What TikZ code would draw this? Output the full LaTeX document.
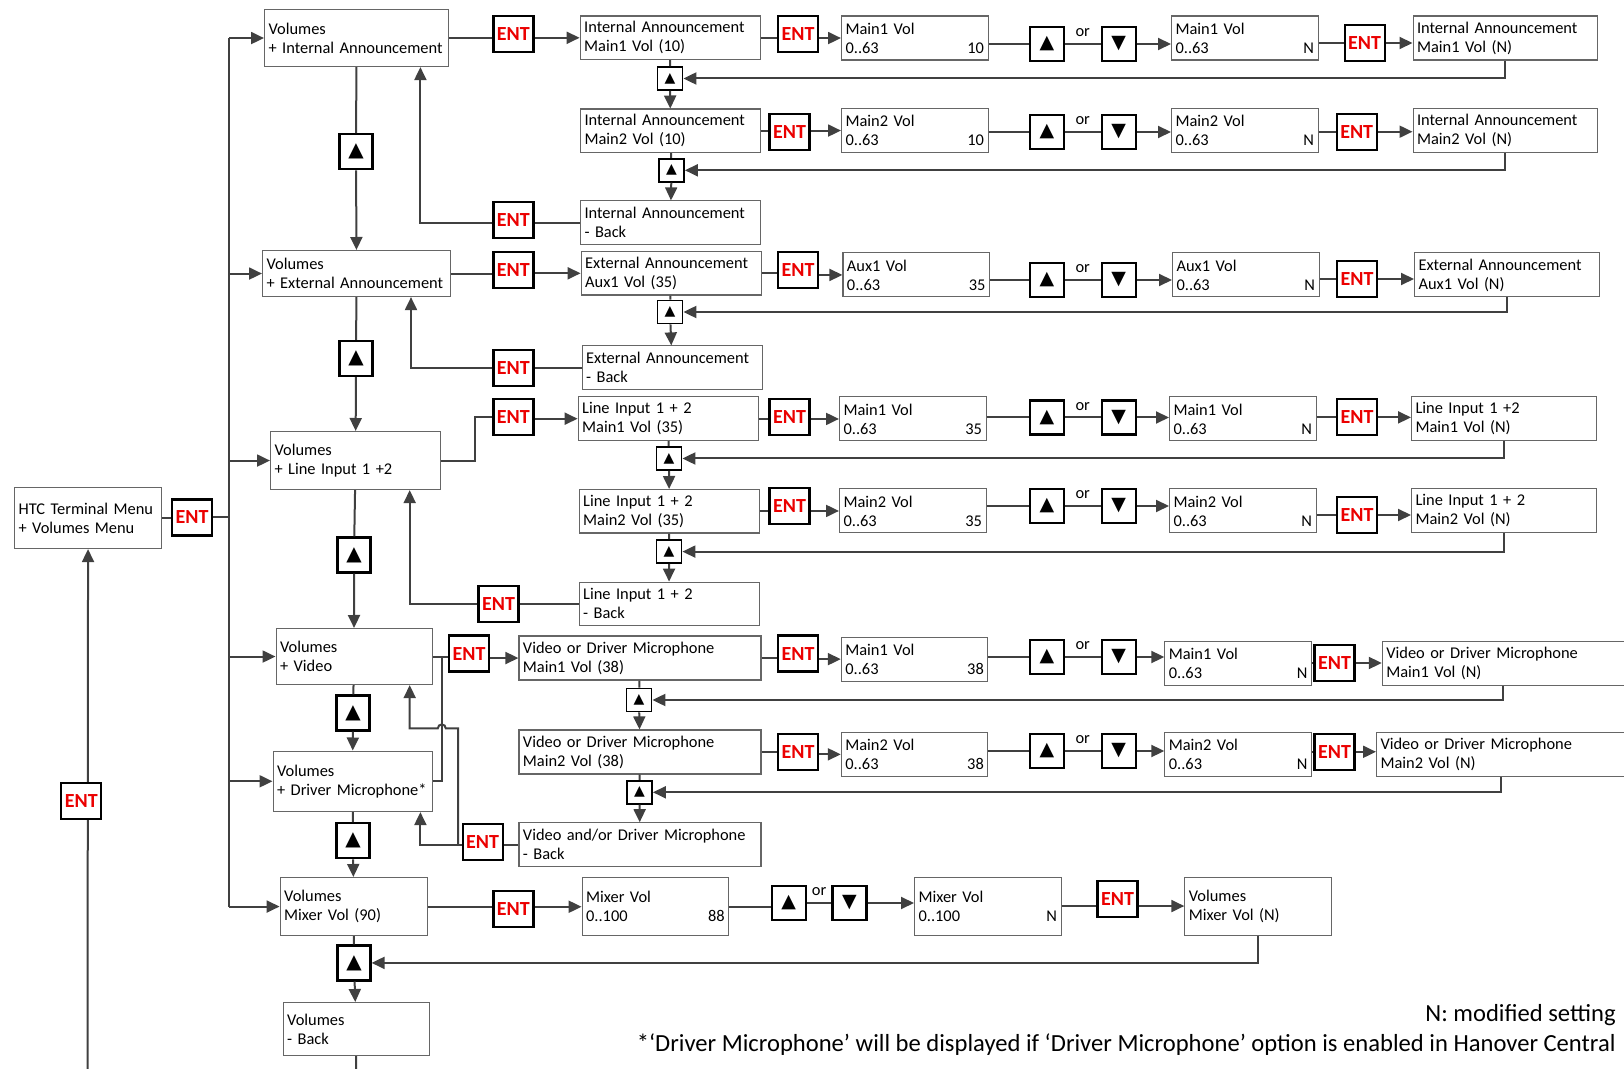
\documentclass[tikz,border=0pt]{standalone}
\usepackage{fontspec}
\setmainfont{Carlito}
\newfontfamily\keysym{DejaVu Sans}
\usepackage{tikz}
\usetikzlibrary{arrows.meta,positioning}

\definecolor{entred}{RGB}{235,0,0}
\definecolor{wirecol}{RGB}{64,64,64}
\newcommand{\bxfont}{\fontsize{8.2}{9.5}\selectfont}
\newcommand{\entfnt}{\fontsize{10}{10}\selectfont\bfseries}
\newcommand{\btnfont}{\keysym\fontsize{9.5}{9.5}\selectfont}
\newcommand{\bigbtnfont}{\keysym\fontsize{10}{10}\selectfont}
\newcommand{\smallbtnfont}{\keysym\fontsize{7}{7}\selectfont}
\newcommand{\notefnt}{\fontsize{12.3}{14}\selectfont}

\begin{document}
\begin{tikzpicture}[
    x=0.5pt,y=-0.5pt,
    box/.style={draw=black!60,line width=0.55pt,fill=white,anchor=north west,
        align=left,inner xsep=2pt,inner ysep=1.5pt,font=\bxfont},
    colbox/.style={box,text width=86pt,minimum height=21.75pt},
    vidbox/.style={box,text width=117pt,minimum height=22pt},
    valbox/.style={box,text width=69.25pt,minimum height=22pt},
    outbox/.style={box,text width=88.25pt,minimum height=22pt},
    ent/.style={draw=black,line width=1.1pt,fill=white,minimum width=20pt,
        minimum height=18pt,inner sep=0pt,text=entred,font=\entfnt},
    btn/.style={draw=black,line width=1.1pt,fill=white,minimum width=17pt,
        minimum height=17pt,inner sep=0pt,font=\btnfont},
    bigbtn/.style={btn,minimum width=16.5pt,minimum height=17.5pt,font=\bigbtnfont},
    smallbtn/.style={btn,line width=0.9pt,minimum width=12.5pt,
        minimum height=11.5pt,font=\smallbtnfont},
    orlbl/.style={above=3pt,inner sep=0pt,font=\bxfont},
    wire/.style={draw=wirecol,line width=1pt},
    arrow/.style={wire,-{Triangle[length=6.5pt,width=6pt]}}
]
\useasboundingbox (0,0) rectangle (1624,1069);

% menu column
\node[box,text width=69.5pt,minimum height=30.5pt] (htc) at (14,487) {HTC Terminal Menu\\+ Volumes Menu};
\node[ent] (htcEnt) at (192,517.5) {ENT};
\node[box,text width=88pt,minimum height=28.5pt] (ia) at (264,9) {Volumes\\+ Internal Announcement};
\node[box,text width=90pt,minimum height=23pt] (ea) at (262,250) {Volumes\\+ External Announcement};
\node[box,text width=81pt,minimum height=29pt] (li) at (270,431) {Volumes\\+ Line Input 1 +2};
\node[box,text width=74pt,minimum height=28pt] (vid) at (275.5,628) {Volumes\\+ Video};
\node[box,text width=75.5pt,minimum height=30.25pt] (drv) at (272.5,750.5) {Volumes\\+ Driver Microphone*};
\node[box,text width=69.5pt,minimum height=29pt] (mix) at (279.6,877) {Volumes\\Mixer Vol (90)};
\node[box,text width=69pt,minimum height=26.5pt] (volBack) at (282.6,1002) {Volumes\\- Back};
\node[bigbtn] (iaKey) at (356,151.7) {▲};
\node[bigbtn] (eaKey) at (356,358.5) {▲};
\node[bigbtn] (liKey) at (354,555) {▲};
\node[bigbtn] (vidKey) at (353,713) {▲};
\node[bigbtn] (drvKey) at (353,840.8) {▲};
\node[bigbtn] (mixKey) at (354,962.9) {▲};

% internal announcement
\node[ent] (iaEnt) at (513.4,33.8) {ENT};
\node[colbox] (iaM1) at (579.6,15.5) {Internal Announcement\\Main1 Vol (10)};
\node[ent] (iaM1Ent) at (798,33.8) {ENT};
\node[valbox] (iaM1Val) at (841,15.5) {Main1 Vol\\0..63\hfill 10};
\node[btn] (iaM1Up) at (1046.8,44) {▲};
\node[btn] (iaM1Dn) at (1118.6,44) {▼};
\node[valbox] (iaM1New) at (1171,15.5) {Main1 Vol\\0..63\hfill N};
\node[ent] (iaM1Ent2) at (1364.6,43) {ENT};
\node[outbox] (iaM1Out) at (1412.5,15.5) {Internal Announcement\\Main1 Vol (N)};
\node[smallbtn] (iaM1Btn) at (670,78.5) {▲};
\node[colbox] (iaM2) at (580,108.5) {Internal Announcement\\Main2 Vol (10)};
\node[ent] (iaM2Ent) at (789.5,131.7) {ENT};
\node[valbox] (iaM2Val) at (841,108) {Main2 Vol\\0..63\hfill 10};
\node[btn] (iaM2Up) at (1046.8,132) {▲};
\node[btn] (iaM2Dn) at (1118.6,132) {▼};
\node[valbox] (iaM2New) at (1171,108) {Main2 Vol\\0..63\hfill N};
\node[ent] (iaM2Ent2) at (1356.7,131.7) {ENT};
\node[outbox] (iaM2Out) at (1412.5,108) {Internal Announcement\\Main2 Vol (N)};
\node[smallbtn] (iaM2Btn) at (671.5,170.3) {▲};
\node[colbox] (iaBack) at (580,200.4) {Internal Announcement\\- Back};
\node[ent] (iaBackEnt) at (513.4,220.3) {ENT};

% external announcement
\node[ent] (eaEnt) at (513.4,270) {ENT};
\node[colbox] (eaA1) at (580.6,251) {External Announcement\\Aux1 Vol (35)};
\node[ent] (eaA1Ent) at (798,270) {ENT};
\node[valbox] (eaA1Val) at (842.4,252.4) {Aux1 Vol\\0..63\hfill 35};
\node[btn] (eaA1Up) at (1046.8,280) {▲};
\node[btn] (eaA1Dn) at (1118.6,280) {▼};
\node[valbox] (eaA1New) at (1172,252.4) {Aux1 Vol\\0..63\hfill N};
\node[ent] (eaA1Ent2) at (1357,279) {ENT};
\node[outbox] (eaA1Out) at (1414,252.4) {External Announcement\\Aux1 Vol (N)};
\node[smallbtn] (eaA1Btn) at (670,312) {▲};
\node[colbox] (eaBack) at (581.6,345.4) {External Announcement\\- Back};
\node[ent] (eaBackEnt) at (513.4,367.7) {ENT};

% line input
\node[ent] (liEnt) at (513.4,417.4) {ENT};
\node[colbox] (liM1) at (577.6,396.4) {Line Input 1 + 2\\Main1 Vol (35)};
\node[ent] (liM1Ent) at (789.5,417.4) {ENT};
\node[valbox] (liM1Val) at (839,396.4) {Main1 Vol\\0..63\hfill 35};
\node[btn] (liM1Up) at (1046.8,417.5) {▲};
\node[btn] (liM1Dn) at (1118.6,417.5) {▼};
\node[valbox] (liM1New) at (1169,396.4) {Main1 Vol\\0..63\hfill N};
\node[ent] (liM1Ent2) at (1357,417.4) {ENT};
\node[outbox] (liM1Out) at (1411,396.4) {Line Input 1 +2\\Main1 Vol (N)};
\node[smallbtn] (liM1Btn) at (669,458.5) {▲};
\node[colbox] (liM2) at (578.6,489) {Line Input 1 + 2\\Main2 Vol (35)};
\node[ent] (liM2Ent) at (789.5,506.3) {ENT};
\node[valbox] (liM2Val) at (839,488.4) {Main2 Vol\\0..63\hfill 35};
\node[btn] (liM2Up) at (1046.8,506) {▲};
\node[btn] (liM2Dn) at (1118.6,506) {▼};
\node[valbox] (liM2New) at (1169,488.4) {Main2 Vol\\0..63\hfill N};
\node[ent] (liM2Ent2) at (1357,515) {ENT};
\node[outbox] (liM2Out) at (1411,488.4) {Line Input 1 + 2\\Main2 Vol (N)};
\node[smallbtn] (liM2Btn) at (669,551.6) {▲};
\node[colbox] (liBack) at (578.6,581.6) {Line Input 1 + 2\\- Back};
\node[ent] (liBackEnt) at (498.5,603.8) {ENT};

% video / driver microphone
\node[ent] (vidEnt) at (469,653.6) {ENT};
\node[vidbox] (vdM1) at (518.4,635.5) {Video or Driver Microphone\\Main1 Vol (38)};
\node[ent] (vdM1Ent) at (798,653.6) {ENT};
\node[valbox] (vdM1Val) at (840.8,636.6) {Main1 Vol\\0..63\hfill 38};
\node[btn] (vdM1Up) at (1046.8,657) {▲};
\node[btn] (vdM1Dn) at (1118.6,657) {▼};
\node[valbox] (vdM1New) at (1164.3,640.7) {Main1 Vol\\0..63\hfill N};
\node[ent] (vdM1Ent2) at (1334.5,663) {ENT};
\node[box,text width=130pt,minimum height=22pt] (vdM1Out) at (1381.8,640.7) {Video or Driver Microphone\\Main1 Vol (N)};
\node[smallbtn] (vdM1Btn) at (639,700) {▲};
\node[vidbox] (vdM2) at (518.4,729.4) {Video or Driver Microphone\\Main2 Vol (38)};
\node[ent] (vdM2Ent) at (798,751.8) {ENT};
\node[valbox] (vdM2Val) at (840.8,731.8) {Main2 Vol\\0..63\hfill 38};
\node[btn] (vdM2Up) at (1046.8,751) {▲};
\node[btn] (vdM2Dn) at (1118.6,751) {▼};
\node[valbox] (vdM2New) at (1164.3,731.8) {Main2 Vol\\0..63\hfill N};
\node[ent] (vdM2Ent2) at (1334.5,751.8) {ENT};
\node[box,text width=130pt,minimum height=22pt] (vdM2Out) at (1376,731.8) {Video or Driver Microphone\\Main2 Vol (N)};
\node[smallbtn] (vdM2Btn) at (639.5,792.3) {▲};
\node[vidbox] (vdBack) at (518.4,822.2) {Video and/or Driver Microphone\\- Back};
\node[ent] (vdBackEnt) at (482.6,842) {ENT};

% mixer
\node[ent] (mixEnt) at (513.4,909.3) {ENT};
\node[valbox,minimum height=29pt] (mixVal) at (581.6,877.2) {Mixer Vol\\0..100\hfill 88};
\node[btn] (mixUp) at (788.7,903) {▲};
\node[btn] (mixDn) at (849.5,903) {▼};
\node[valbox,minimum height=29pt] (mixNew) at (914,876.5) {Mixer Vol\\0..100\hfill N};
\node[ent] (mixEnt2) at (1117.5,899) {ENT};
\node[valbox,minimum height=29pt] (mixOut) at (1184.3,876.5) {Volumes\\Mixer Vol (N)};

% trunk
\coordinate (trunk) at (229,0);
\draw[wire] (htc.east) -- (htc.east -| htcEnt.west);
\draw[wire] (htcEnt.east) -- (htcEnt.east -| trunk);
\draw[wire] (trunk |- ia.west) -- (trunk |- mix.west);
\draw[arrow] (trunk |- ia.west) -- (ia.west);
\draw[arrow] (trunk |- ea.west) -- (ea.west);
\draw[arrow] (trunk |- li.west) -- (li.west);
\draw[arrow] (trunk |- vid.west) -- (vid.west);
\draw[arrow] (trunk |- drv.west) -- (drv.west);
\draw[arrow] (trunk |- mix.west) -- (mix.west);

% up key chain of the menus
\draw[wire] (ia) -- (iaKey);
\draw[arrow] (iaKey) -- (ea);
\draw[wire] (ea) -- (eaKey);
\draw[arrow] (eaKey) -- (li);
\draw[wire] (li) -- (liKey);
\draw[arrow] (liKey) -- (vid);
\draw[wire] (vid) -- (vidKey);
\draw[arrow] (vidKey) -- (drv);
\draw[wire] (drv) -- (drvKey);
\draw[arrow] (drvKey) -- (mix);
\draw[wire] (mix) -- (mixKey);
\draw[arrow] (mixKey) -- (volBack);

% internal announcement links
\draw[wire] (ia.east) -- (ia.east -| iaEnt.west);
\draw[arrow] (iaEnt.east |- iaM1.west) -- (iaM1.west);
\draw[wire] (iaM1.east) -- (iaM1.east -| iaM1Ent.west);
\draw[arrow] (iaM1Ent.east |- iaM1Val.west) -- (iaM1Val.west);
\draw[wire] (iaM1Val.east |- iaM1Up) -- (iaM1Up.west);
\draw[wire] (iaM1Up) -- node[orlbl] (iaM1Or) {or} (iaM1Dn);
\draw[arrow] (iaM1Dn.east) -- (iaM1Dn.east -| iaM1New.west);
\draw[wire] (iaM1New.east |- iaM1Ent2) -- (iaM1Ent2.west);
\draw[arrow] (iaM1Ent2.east) -- (iaM1Ent2.east -| iaM1Out.west);
\draw[arrow] (iaM1Out.south) |- (iaM1Btn.east);
\draw[wire] (iaM1) -- (iaM1Btn);
\draw[arrow] (iaM1Btn) -- (iaM2);
\draw[wire] (iaM2.east) -- (iaM2.east -| iaM2Ent.west);
\draw[arrow] (iaM2Ent.east |- iaM2Val.west) -- (iaM2Val.west);
\draw[wire] (iaM2Val.east |- iaM2Up) -- (iaM2Up.west);
\draw[wire] (iaM2Up) -- node[orlbl] (iaM2Or) {or} (iaM2Dn);
\draw[arrow] (iaM2Dn.east) -- (iaM2Dn.east -| iaM2New.west);
\draw[wire] (iaM2New.east |- iaM2Ent2) -- (iaM2Ent2.west);
\draw[arrow] (iaM2Ent2.east) -- (iaM2Ent2.east -| iaM2Out.west);
\draw[arrow] (iaM2Out.south) |- (iaM2Btn.east);
\draw[wire] (iaM2) -- (iaM2Btn);
\draw[arrow] (iaM2Btn) -- (iaBack);
\coordinate (iaRet) at (420.4,0);
\draw[wire] (iaBack.west) -- (iaBack.west -| iaBackEnt.east);
\draw[arrow] (iaBackEnt.west |- iaBack.west) -| (ia.south -| iaRet);

% external announcement links
\draw[wire] (ea.east) -- (ea.east -| eaEnt.west);
\draw[arrow] (eaEnt.east |- eaA1.west) -- (eaA1.west);
\draw[wire] (eaA1.east) -- (eaA1.east -| eaA1Ent.west);
\draw[arrow] (eaA1Ent.east |- eaA1Val.west) -- (eaA1Val.west);
\draw[wire] (eaA1Val.east |- eaA1Up) -- (eaA1Up.west);
\draw[wire] (eaA1Up) -- node[orlbl] (eaA1Or) {or} (eaA1Dn);
\draw[arrow] (eaA1Dn.east) -- (eaA1Dn.east -| eaA1New.west);
\draw[wire] (eaA1New.east |- eaA1Ent2) -- (eaA1Ent2.west);
\draw[arrow] (eaA1Ent2.east) -- (eaA1Ent2.east -| eaA1Out.west);
\draw[arrow] (eaA1Out.south) |- (eaA1Btn.east);
\draw[wire] (eaA1) -- (eaA1Btn);
\draw[arrow] (eaA1Btn) -- (eaBack);
\coordinate (eaRet) at (411,0);
\draw[wire] (eaBack.west) -- (eaBack.west -| eaBackEnt.east);
\draw[arrow] (eaBackEnt.west |- eaBack.west) -| (ea.south -| eaRet);

% line input links
\draw[wire] (li.east) -- ++(33.5,0) |- (liEnt.west);
\draw[arrow] (liEnt.east |- liM1.west) -- (liM1.west);
\draw[wire] (liM1.east) -- (liM1.east -| liM1Ent.west);
\draw[arrow] (liM1Ent.east |- liM1Val.west) -- (liM1Val.west);
\draw[wire] (liM1Val.east |- liM1Up) -- (liM1Up.west);
\draw[wire] (liM1Up) -- node[orlbl] (liM1Or) {or} (liM1Dn);
\draw[arrow] (liM1Dn.east) -- (liM1Dn.east -| liM1New.west);
\draw[wire] (liM1New.east |- liM1Ent2) -- (liM1Ent2.west);
\draw[arrow] (liM1Ent2.east) -- (liM1Ent2.east -| liM1Out.west);
\draw[arrow] (liM1Out.south) |- (liM1Btn.east);
\draw[wire] (liM1) -- (liM1Btn);
\draw[arrow] (liM1Btn) -- (liM2);
\draw[wire] (liM2.east) -- (liM2.east -| liM2Ent.west);
\draw[arrow] (liM2Ent.east |- liM2Val.west) -- (liM2Val.west);
\draw[wire] (liM2Val.east |- liM2Up) -- (liM2Up.west);
\draw[wire] (liM2Up) -- node[orlbl] (liM2Or) {or} (liM2Dn);
\draw[arrow] (liM2Dn.east) -- (liM2Dn.east -| liM2New.west);
\draw[wire] (liM2New.east |- liM2Ent2) -- (liM2Ent2.west);
\draw[arrow] (liM2Ent2.east) -- (liM2Ent2.east -| liM2Out.west);
\draw[arrow] (liM2Out.south) |- (liM2Btn.east);
\draw[wire] (liM2) -- (liM2Btn);
\draw[arrow] (liM2Btn) -- (liBack);
\coordinate (liRet) at (409.7,0);
\draw[wire] (liBack.west) -- (liBack.west -| liBackEnt.east);
\draw[arrow] (liBackEnt.west |- liBack.west) -| (li.south -| liRet);

% video and driver microphone links
\coordinate (vdJoin) at (441.8,0);
\draw[wire] (vid.east) -- (vid.east -| vidEnt.west);
\draw[wire] (drv.east) -| (vdJoin |- vid.east);
\draw[arrow] (vidEnt.east |- vdM1.west) -- (vdM1.west);
\draw[wire] (vdM1.east) -- (vdM1.east -| vdM1Ent.west);
\draw[arrow] (vdM1Ent.east |- vdM1Val.west) -- (vdM1Val.west);
\draw[wire] (vdM1Val.east |- vdM1Up) -- (vdM1Up.west);
\draw[wire] (vdM1Up) -- node[orlbl] (vdM1Or) {or} (vdM1Dn);
\draw[arrow] (vdM1Dn.east) -- (vdM1Dn.east -| vdM1New.west);
\draw[wire] (vdM1New.east |- vdM1Ent2) -- (vdM1Ent2.west);
\draw[arrow] (vdM1Ent2.east) -- (vdM1Ent2.east -| vdM1Out.west);
\coordinate (vdM1Ret) at (1503,0);
\draw[arrow] (vdM1Out.south -| vdM1Ret) |- (vdM1Btn.east);
\draw[wire] (vdM1) -- (vdM1Btn);
\draw[arrow] (vdM1Btn) -- (vdM2);
\draw[wire] (vdM2.east) -- (vdM2.east -| vdM2Ent.west);
\draw[arrow] (vdM2Ent.east |- vdM2Val.west) -- (vdM2Val.west);
\draw[wire] (vdM2Val.east |- vdM2Up) -- (vdM2Up.west);
\draw[wire] (vdM2Up) -- node[orlbl] (vdM2Or) {or} (vdM2Dn);
\draw[arrow] (vdM2Dn.east) -- (vdM2Dn.east -| vdM2New.west);
\draw[wire] (vdM2New.east |- vdM2Ent2) -- (vdM2Ent2.west);
\draw[arrow] (vdM2Ent2.east) -- (vdM2Ent2.east -| vdM2Out.west);
\coordinate (vdM2Ret) at (1500.8,0);
\draw[arrow] (vdM2Out.south -| vdM2Ret) |- (vdM2Btn.east);
\draw[wire] (vdM2) -- (vdM2Btn);
\draw[arrow] (vdM2Btn) -- (vdBack);
\coordinate (drvRet) at (420.4,0);
\draw[wire] (vdBack.west) -- (vdBack.west -| vdBackEnt.east);
\draw[arrow] (vdBackEnt.west |- vdBack.west) -| (drv.south -| drvRet);
\coordinate (vdFork) at (458,844.2);
\coordinate (vdHop) at (445.8,728.4);
\coordinate (vidRet) at (409.7,728.4);
\draw[arrow] (vdFork) |- (vdHop) arc[start angle=0,end angle=180,radius=2pt]
    -- (vidRet) -- (vid.south -| vidRet);

% mixer links
\draw[wire] (mix.east) -- (mix.east -| mixEnt.west);
\draw[arrow] (mixEnt.east |- mixVal.west) -- (mixVal.west);
\draw[wire] (mixVal.east) -- (mixVal.east -| mixUp.west);
\draw[wire] (mixUp) -- node[orlbl] (mixOr) {or} (mixDn);
\draw[arrow] (mixDn.east) -- (mixDn.east -| mixNew.west);
\draw[wire] (mixNew.east) -- (mixNew.east -| mixEnt2.west);
\draw[arrow] (mixEnt2.east |- mixOut.west) -- (mixOut.west);
\draw[arrow] (mixOut.south) |- (mixKey.east);

% back to the terminal menu
\coordinate (loopBot) at (87.5,1100);
\draw[arrow] (volBack.south) |- (loopBot) -- (htc.south);
\node[ent] (loopEnt) at (81.3,801) {ENT};

% notes
\node[anchor=east,inner sep=0pt,font=\notefnt] (noteN) at (1616,1015) {N: modified setting};
\node[anchor=east,inner sep=0pt,font=\notefnt] (noteDrv) at (1616,1045)
    {*‘Driver Microphone’ will be displayed if ‘Driver Microphone’ option is enabled in Hanover Central};
\end{tikzpicture}
\end{document}
